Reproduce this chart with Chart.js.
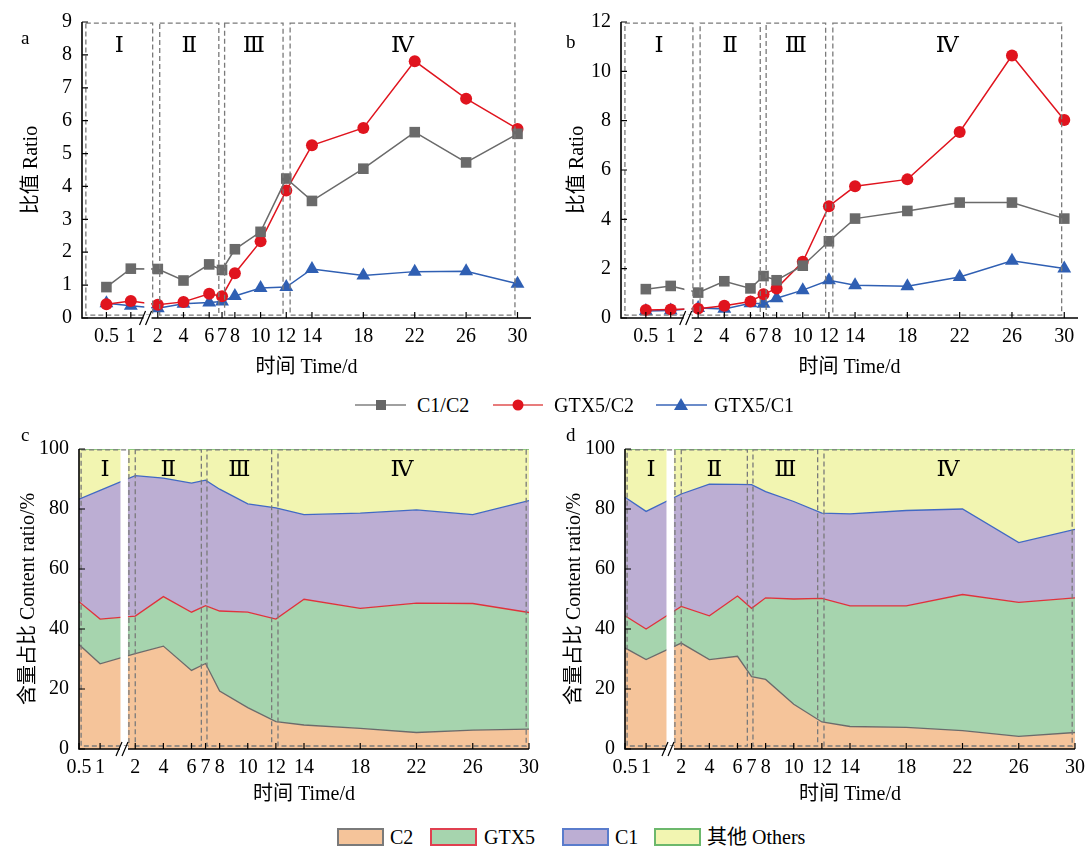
<!DOCTYPE html>
<html>
<head>
<meta charset="utf-8">
<script src="https://cdn.jsdelivr.net/npm/chart.js@4.4.1/dist/chart.umd.min.js"></script>
<style>
body{margin:0;background:#fff;}
#page{position:relative;width:1092px;height:848px;overflow:hidden;font-family:"Liberation Serif","Noto Sans CJK SC",serif;color:#000;}
canvas{position:absolute;}
.tag{position:absolute;font-size:19px;line-height:20px;}
.lg{position:absolute;font-size:20px;line-height:20px;white-space:nowrap;}
.sw{position:absolute;width:43px;height:14px;border:2px solid;}
</style>
</head>
<body>
<div id="page">
  <canvas id="ca" width="546" height="380" style="left:0;top:0"></canvas>
  <canvas id="cb" width="546" height="380" style="left:546px;top:0"></canvas>
  <canvas id="cc" width="546" height="390" style="left:0;top:420px"></canvas>
  <canvas id="cd" width="546" height="390" style="left:546px;top:420px"></canvas>

  <div class="tag" style="left:21px;top:28px">a</div>
  <div class="tag" style="left:566px;top:32px">b</div>
  <div class="tag" style="left:21px;top:425px">c</div>
  <div class="tag" style="left:566px;top:425px">d</div>

  <!-- legend of the ratio panels -->
  <svg style="position:absolute;left:355px;top:395px" width="51" height="20"><line x1="0" y1="10" x2="51" y2="10" stroke="#808080" stroke-width="1.6"/><rect x="21" y="5" width="10" height="10" fill="#666"/></svg>
  <div class="lg" style="left:417px;top:395px">C1/C2</div>
  <svg style="position:absolute;left:493px;top:395px" width="50" height="20"><line x1="0" y1="10" x2="50" y2="10" stroke="#e05050" stroke-width="1.6"/><circle cx="25" cy="10" r="5.5" fill="#e0141e"/></svg>
  <div class="lg" style="left:554px;top:395px">GTX5/C2</div>
  <svg style="position:absolute;left:656px;top:395px" width="51" height="20"><line x1="0" y1="10" x2="51" y2="10" stroke="#3a66b8" stroke-width="1.6"/><polygon points="25,3 32,15 18,15" fill="#2f5fb3"/></svg>
  <div class="lg" style="left:714px;top:395px">GTX5/C1</div>

  <!-- legend of the content panels -->
  <div class="sw" style="left:337px;top:828px;background:#f5c49a;border-color:#7a7a7a"></div>
  <div class="lg" style="left:390px;top:827px">C2</div>
  <div class="sw" style="left:430px;top:828px;background:#a6d4ae;border-color:#e04050"></div>
  <div class="lg" style="left:484px;top:827px">GTX5</div>
  <div class="sw" style="left:562px;top:828px;background:#bcaed3;border-color:#5a7ccc"></div>
  <div class="lg" style="left:615px;top:827px">C1</div>
  <div class="sw" style="left:654px;top:828px;background:#f2f5b1;border-color:#6cb86c"></div>
  <div class="lg" style="left:707px;top:827px">其他 Others</div>
</div>

<script>
var days = [0.5, 1, 2, 4, 6, 7, 8, 10, 12, 14, 18, 22, 26, 30];
var tickLabels = ['0.5', '1', '2', '4', '6', '7', '8', '10', '12', '14', '18', '22', '26', '30'];

// a: ratios
var aC1C2   = [0.94, 1.50, 1.49, 1.14, 1.63, 1.46, 2.09, 2.62, 4.24, 3.56, 4.54, 5.65, 4.73, 5.60];
var aGtxC2  = [0.42, 0.52, 0.40, 0.49, 0.74, 0.66, 1.36, 2.33, 3.88, 5.25, 5.78, 7.81, 6.67, 5.75];
var aGtxC1  = [0.45, 0.37, 0.30, 0.43, 0.47, 0.50, 0.67, 0.91, 0.94, 1.49, 1.29, 1.41, 1.42, 1.04];
// b: ratios
var bC1C2   = [1.17, 1.30, 1.03, 1.49, 1.20, 1.70, 1.53, 2.12, 3.11, 4.03, 4.34, 4.68, 4.68, 4.03];
var bGtxC2  = [0.32, 0.34, 0.38, 0.50, 0.67, 0.96, 1.20, 2.28, 4.53, 5.34, 5.62, 7.54, 10.64, 8.03];
var bGtxC1  = [0.28, 0.30, 0.41, 0.37, 0.60, 0.58, 0.80, 1.13, 1.53, 1.33, 1.29, 1.66, 2.32, 2.01];
// c: content %
var cC2     = [34.8, 28.4, 31.8, 34.3, 26.2, 28.5, 19.3, 13.8, 9.1, 8.0, 6.9, 5.5, 6.3, 6.6];
var cGTX5   = [14.3, 14.9, 12.5, 16.5, 19.4, 19.3, 26.7, 31.8, 34.2, 41.9, 40.0, 43.1, 42.2, 38.9];
var cC1     = [34.2, 42.9, 46.8, 39.5, 43.0, 41.8, 40.6, 36.1, 37.1, 28.2, 31.7, 31.1, 29.6, 37.3];
var cOthers = [16.7, 13.8, 8.9, 9.7, 11.4, 10.4, 13.4, 18.3, 19.6, 21.9, 21.4, 20.3, 21.9, 17.2];
// d: content %
var dC2     = [33.7, 29.8, 35.3, 29.8, 30.9, 24.1, 23.2, 14.9, 9.0, 7.5, 7.2, 6.1, 4.2, 5.5];
var dGTX5   = [10.7, 10.2, 12.2, 14.6, 20.1, 22.8, 27.2, 35.1, 41.2, 40.2, 40.5, 45.4, 44.7, 44.9];
var dC1     = [39.5, 39.2, 37.5, 43.9, 37.2, 41.2, 35.4, 32.5, 28.4, 30.7, 31.8, 28.5, 19.9, 22.8];
var dOthers = [16.1, 20.8, 15.0, 11.7, 11.8, 11.9, 14.2, 17.5, 21.4, 21.6, 20.5, 20.0, 31.2, 26.8];

var lineNames = ['C1/C2', 'GTX5/C2', 'GTX5/C1'];
var areaNames = ['C2', 'GTX5', 'C1', '其他 Others'];
var stageNames = ['Ⅰ', 'Ⅱ', 'Ⅲ', 'Ⅳ'];

// broken time axis: 0.5 and 1 squeezed in before the break, linear from 2 on
var xmapTop = {p05: -2.0, p1: -0.1, min: -3.9, max: 31.05, gap: [0.95, 1.48], brk: 1.2,
  stages: [[-3.6, 1.6], [2.15, 6.75], [7.2, 11.75], [12.3, 29.8]]};
var xmapBot = {p05: -2.0, p1: -0.5, min: -2.0, max: 30, gap: [0.95, 1.48], brk: 1.2,
  stages: [[-1.85, 1.55], [2.0, 6.7], [7.1, 11.7], [12.15, 29.8]]};

function xpos(d, m) {
  return d >= 2 ? d : m.p05 + (d - 0.5) * (m.p1 - m.p05) / 0.5;
}
function pts(vals, m) {
  return days.map(function (d, i) { return {x: xpos(d, m), y: vals[i]}; });
}

var FONT = '"Liberation Serif","Noto Sans CJK SC",serif';

var deco = {
  id: 'deco',
  afterDatasetsDraw: function (chart, args, o) {
    var ctx = chart.ctx, xs = chart.scales.x, ys = chart.scales.y, ca = chart.chartArea;
    var h = ca.bottom - ca.top;
    ctx.save();
    // white break band
    var g0 = xs.getPixelForValue(o.m.gap[0]), g1 = xs.getPixelForValue(o.m.gap[1]);
    ctx.fillStyle = '#fff';
    ctx.fillRect(g0, ca.top - 1, g1 - g0, h + 1);
    // dashed stage boxes
    ctx.strokeStyle = '#7a7a7a';
    ctx.lineWidth = 1.3;
    ctx.setLineDash([5, 3]);
    var yt = ca.bottom - o.boxY[1] * h, yb = ca.bottom - o.boxY[0] * h;
    o.m.stages.forEach(function (s) {
      var l = xs.getPixelForValue(s[0]), r = xs.getPixelForValue(s[1]);
      ctx.strokeRect(l, yt, r - l, yb - yt);
    });
    ctx.setLineDash([]);
    // stage numerals
    ctx.fillStyle = '#000';
    ctx.font = '23px "Liberation Serif","DejaVu Serif","Noto Sans CJK SC",serif';
    ctx.textAlign = 'center';
    ctx.textBaseline = 'middle';
    o.m.stages.forEach(function (s, i) {
      ctx.fillText(stageNames[i], xs.getPixelForValue((s[0] + s[1]) / 2), ca.bottom - o.numY * h);
    });
    // axes
    ctx.strokeStyle = '#000';
    ctx.lineWidth = 1.6;
    ctx.beginPath();
    ctx.moveTo(ca.left, ca.top);
    ctx.lineTo(ca.left, ca.bottom);
    ctx.lineTo(ca.right, ca.bottom);
    ctx.stroke();
    // inward ticks
    ctx.lineWidth = 1.2;
    ctx.beginPath();
    xs.ticks.forEach(function (t) {
      var x = xs.getPixelForValue(t.value);
      ctx.moveTo(x, ca.bottom);
      ctx.lineTo(x, ca.bottom - 6);
    });
    ys.ticks.forEach(function (t) {
      var y = ys.getPixelForValue(t.value);
      ctx.moveTo(ca.left, y);
      ctx.lineTo(ca.left + 6, y);
    });
    ctx.stroke();
    // axis break //
    var bx = xs.getPixelForValue(o.m.brk);
    ctx.fillStyle = '#fff';
    ctx.fillRect(bx - 4, ca.bottom - 3, 8, 6);
    ctx.beginPath();
    ctx.moveTo(bx - 8, ca.bottom + 7); ctx.lineTo(bx - 2, ca.bottom - 7);
    ctx.moveTo(bx - 2, ca.bottom + 7); ctx.lineTo(bx + 4, ca.bottom - 7);
    ctx.stroke();
    ctx.restore();
  }
};

function xAxis(m, axisH, titlePad) {
  return {
    type: 'linear', min: m.min, max: m.max,
    afterBuildTicks: function (s) {
      s.ticks = days.map(function (d) { return {value: xpos(d, m)}; });
    },
    afterFit: function (s) { s.height = axisH; },
    grid: {display: false, drawTicks: false},
    border: {display: false},
    ticks: {autoSkip: false, maxRotation: 0, padding: 7, color: '#000', font: {family: FONT, size: 20},
      callback: function (v, i) { return tickLabels[i]; }},
    title: {display: true, text: '时间 Time/d', color: '#000', font: {family: FONT, size: 20},
      padding: {top: 0, bottom: titlePad}}
  };
}

function yAxis(max, step, w, title, titlePad, stacked) {
  return {
    min: 0, max: max, stacked: stacked,
    afterFit: function (s) { s.width = w; },
    grid: {display: false, drawTicks: false},
    border: {display: false},
    ticks: {stepSize: step, padding: 10, color: '#000', font: {family: FONT, size: 20}},
    title: {display: true, text: title, color: '#000', font: {family: FONT, size: 20},
      padding: {top: titlePad, bottom: 0}}
  };
}

function ratioChart(id, series, ymax, ystep, yw, padRight) {
  var colors = ['#6a6a6a', '#e0141e', '#2f5fb3'];
  var styles = ['rect', 'circle', 'triangle'];
  var radii = [7.5, 6, 8];
  new Chart(document.getElementById(id), {
    type: 'line',
    data: {
      datasets: series.map(function (v, i) {
        return {label: lineNames[i], data: pts(v, xmapTop), borderColor: colors[i], backgroundColor: colors[i],
          borderWidth: 1.5, pointStyle: styles[i], pointRadius: radii[i], pointBorderWidth: 0, tension: 0, fill: false};
      })
    },
    options: {
      responsive: false, animation: false, devicePixelRatio: 1,
      layout: {autoPadding: false, padding: {left: 0, top: 16, right: padRight, bottom: 0}},
      plugins: {legend: {display: false}, tooltip: {enabled: false},
        deco: {m: xmapTop, boxY: [0.01, 0.996], numY: 0.92}},
      scales: {x: xAxis(xmapTop, 62, 0), y: yAxis(ymax, ystep, yw, '比值 Ratio', 20, false)}
    },
    plugins: [deco]
  });
}

function contentChart(id, series, yw, padRight) {
  var fills = ['#f5c49a', '#a6d4ae', '#bcaed3', '#f2f5b1'];
  var borders = ['#6b6b6b', '#e0323c', '#4169c4', '#6cb86c'];
  new Chart(document.getElementById(id), {
    type: 'line',
    data: {
      datasets: series.map(function (v, i) {
        return {label: areaNames[i], data: pts(v, xmapBot), fill: i === 0 ? 'origin' : '-1',
          backgroundColor: fills[i], borderColor: borders[i], borderWidth: 1.3, pointRadius: 0, tension: 0};
      })
    },
    options: {
      responsive: false, animation: false, devicePixelRatio: 1,
      layout: {autoPadding: false, padding: {left: 0, top: 29, right: padRight, bottom: 0}},
      plugins: {legend: {display: false}, tooltip: {enabled: false},
        deco: {m: xmapBot, boxY: [0.01, 0.997], numY: 0.93}},
      scales: {x: xAxis(xmapBot, 61, 3), y: yAxis(100, 20, yw, '含量占比 Content ratio/%', 17, true)}
    },
    plugins: [deco]
  });
}

ratioChart('ca', [aC1C2, aGtxC2, aGtxC1], 9, 1, 82, 15);
ratioChart('cb', [bC1C2, bGtxC2, bGtxC1], 12, 2, 75, 14);
contentChart('cc', [cC2, cGTX5, cC1, cOthers], 79, 17);
contentChart('cd', [dC2, dGTX5, dC1, dOthers], 79, 15);
</script>
</body>
</html>
